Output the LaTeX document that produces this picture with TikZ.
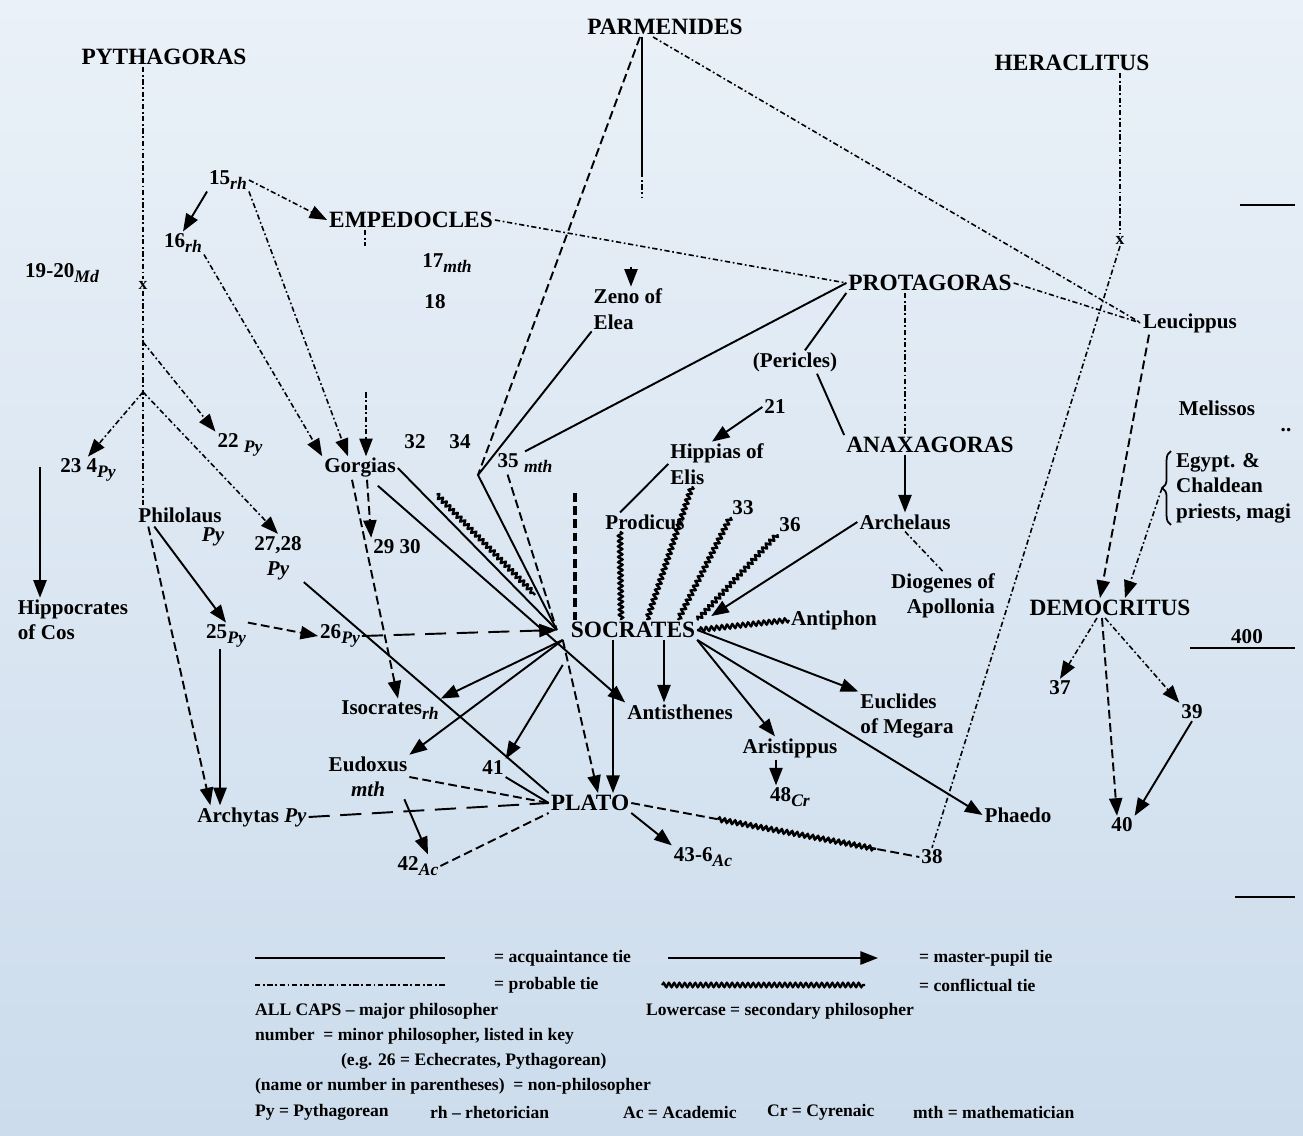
\documentclass[tikz,border=0pt]{standalone}
\usepackage{fontspec}
\setmainfont{Liberation Serif}
\usetikzlibrary{arrows.meta,calc,decorations.pathmorphing,decorations.pathreplacing}
\definecolor{bgtop}{RGB}{234,241,248}
\definecolor{bgbot}{RGB}{204,220,236}
\newcommand{\sbs}[1]{\raisebox{-0.5ex}{\fontsize{10}{10}\selectfont\itshape #1}}
\tikzset{
  lab/.style = {inner sep=1pt, font=\fontsize{12}{14.5}\selectfont\bfseries},
  major/.style = {lab, font=\fontsize{13.3}{15}\selectfont\bfseries},
  key/.style = {inner sep=1pt, anchor=west, font=\fontsize{10}{11}\selectfont\bfseries},
  tie/.style = {line width=1.1pt},
  arr/.style = {-{Triangle[length=10pt,width=7.5pt]}},
  pup/.style = {tie, arr},
  prob/.style = {line width=0.9pt, dash pattern=on 3pt off 1.5pt on 1pt off 1.5pt},
  dsh/.style = {line width=1.1pt, dash pattern=on 5pt off 2.5pt},
  ldsh/.style = {line width=1.1pt, dash pattern=on 12pt off 6pt},
  confl/.style = {line width=1.3pt, decorate,
    decoration={snake, amplitude=1.2pt, segment length=3pt}}
}
\begin{document}
\begin{tikzpicture}[x=0.02cm, y=-0.02cm]
    \shade[top color=bgtop, bottom color=bgbot] (0,0) rectangle (1303,1136);
    \useasboundingbox (0,0) rectangle (1303,1136);

    \node[major] (pyth) at (164,57) {PYTHAGORAS};
    \node[major] (parm) at (665,27) {PARMENIDES};
    \node[major] (hera) at (1072,63) {HERACLITUS};
    \node[lab] (n15) at (228,180) {15\sbs{rh}};
    \node[lab] (n16) at (183,243) {16\sbs{rh}};
    \node[major] (emped) at (411,220) {EMPEDOCLES};
    \node[lab] (n17) at (447,263) {17\sbs{mth}};
    \node[lab] (n18) at (435,302) {18};
    \node[lab] (n1920) at (62,273) {19-20\sbs{Md}};
    \node[lab] (xp) at (143,285) {\fontsize{10}{10}\selectfont x};
    \node[lab] (xh) at (1120,240) {\fontsize{10}{10}\selectfont x};
    \node[lab, align=left] (zeno) at (628,309) {Zeno of\\Elea};
    \node[major] (prot) at (930,283) {PROTAGORAS};
    \node[lab] (leuc) at (1190,323) {Leucippus};
    \node[lab] (peric) at (795,362) {(Pericles)};
    \node[lab] (meliss) at (1217,408) {Melissos};
    \node[lab] (dd) at (1286,430) {..};
    \node[lab] (n21) at (775,407) {21};
    \node[lab, align=left] (hipp) at (717,464) {Hippias of\\Elis};
    \node[major] (anax) at (930,445) {ANAXAGORAS};
    \node[lab, align=left, anchor=west] (egypt) at (1174,488) {Egypt. \&\\Chaldean\\priests, magi};
    \node[lab] (n234) at (88,470) {23 4\sbs{Py}};
    \node[lab] (n22) at (240,445) {22 \sbs{Py}};
    \node[lab] (gorg) at (360,468) {Gorgias};
    \node[lab] (n32) at (415,442) {32};
    \node[lab] (n34) at (460,442) {34};
    \node[lab] (n35) at (525,463) {35 \sbs{mth}};
    \node[lab] (prod) at (645,522) {Prodicus};
    \node[lab] (n33) at (743,508) {33};
    \node[lab] (n36) at (790,525) {36};
    \node[lab] (arch) at (905,522) {Archelaus};
    \node[lab] (phil) at (180,515) {Philolaus};
    \node[lab] (philpy) at (213,537) {\itshape Py};
    \node[lab, align=center] (n2728) at (278,558) {27,28\\\itshape Py};
    \node[lab] (n2930) at (397,547) {29 30};
    \node[lab, align=left] (hippoc) at (73,620) {Hippocrates\\of Cos};
    \node[lab, align=right] (diog) at (943,596) {Diogenes of\\Apollonia};
    \node[major] (socr) at (633,630) {SOCRATES};
    \node[lab] (antiph) at (834,620) {Antiphon};
    \node[major] (demo) at (1110,608) {DEMOCRITUS};
    \node[lab] (n400) at (1247,637) {400};
    \node[lab] (n25) at (226,636) {25\sbs{Py}};
    \node[lab] (n26) at (340,636) {26\sbs{Py}};
    \node[lab] (n37) at (1060,688) {37};
    \node[lab] (n39) at (1192,712) {39};
    \node[lab] (isoc) at (390,710) {Isocrates\sbs{rh}};
    \node[lab] (antis) at (680,712) {Antisthenes};
    \node[lab, align=left] (eucl) at (907,716) {Euclides\\of Megara};
    \node[lab] (arist) at (790,748) {Aristippus};
    \node[lab, align=center] (eudox) at (368,777) {Eudoxus\\\itshape mth};
    \node[lab] (n41) at (493,768) {41};
    \node[lab] (n48) at (790,797) {48\sbs{Cr}};
    \node[lab] (archy) at (252,817) {Archytas \itshape Py};
    \node[major] (plato) at (590,803) {PLATO};
    \node[lab] (phaedo) at (1018,815) {Phaedo};
    \node[lab] (n40) at (1122,825) {40};
    \node[lab] (n42) at (418,866) {42\sbs{Ac}};
    \node[lab] (n436) at (703,857) {43-6\sbs{Ac}};
    \node[lab] (n38) at (932,857) {38};

    \coordinate (br1) at (143,342);
    \coordinate (br2) at (143,392);
    \coordinate (hipstart) at (40,467);
    \coordinate (vx) at (478,475);
    \coordinate (zs) at (575,493);
    \coordinate (sw) at ($(socr.west)+(-12,0)$);
    \coordinate (sws) at ($(socr.south west)+(-6,0)$);
    \coordinate (egtip) at ($(egypt.west)+(-12,0)$);

    \draw[line width=1pt, decorate, decoration={brace, amplitude=5pt}]
      ($(egypt.south west)+(-3,0)$) -- ($(egypt.north west)+(-3,0)$);

    \draw[prob] (pyth.south -| xp) -- (xp.north);
    \draw[prob] (xp.south) -- (xp |- phil.north);
    \draw[prob, arr] (br1) -- (n22.north west);
    \draw[prob, arr] (br2) -- (n234.north);
    \draw[prob, arr] (br2) -- (n2728.north);
    \draw[pup] (hipstart) -- (hippoc.north -| hipstart);
    \draw[pup] ($(phil.south west)+(18,2)$) -- (n25.north);
    \draw[dsh, arr] ($(phil.south west)+(12,2)$) -- ($(archy.north west)+(15,0)$);
    \draw[pup] ($(n25.south)+(-6,0)$) -- ($(n25.south |- archy.north)+(-6,0)$);
    \draw[dsh, arr] (n25.north east) -- (n26.west);
    \draw[ldsh, arr] (n26.east) -- (sw);
    \draw[ldsh] (archy.east) -- (plato.west);
    \draw[tie] (n2728.south east) -- (plato.north west);

    \draw[pup] (n15.south west) -- (n16.north);
    \draw[prob, arr] (n15.east) -- (emped.west);
    \draw[prob, arr] (n15.south east) -- ($(gorg.north)+(-12,0)$);
    \draw[prob, arr] (n16.south east) -- (gorg.north west);
    \draw[prob] ($(emped.south)+(-46,0)$) -- ++(0,16);
    \draw[prob, arr] ($(gorg.north)+(6,-64)$) -- ($(gorg.north)+(6,0)$);
    \draw[dsh, arr] ($(gorg.south)+(7,0)$) -- (n2930.north west);
    \draw[dsh, arr] ($(gorg.south)+(-8,0)$) -- ($(isoc.north)+(8,0)$);
    \draw[tie] (gorg.east) -- (sw);
    \draw[confl] ($(gorg.east)!0.2!(sw)+(7,-6)$) -- ($(gorg.east)!0.82!(sw)+(7,-6)$);
    \draw[pup] ($(gorg.south east)+(-20,6)$) -- (antis.north west);

    \draw[pup] (sws) -- (isoc.north east);
    \draw[pup] (sws) -- (eudox.north east);
    \draw[pup] ($(sws)+(0,25)$) -- (n41.north east);
    \draw[tie] (n41.south east) -- (plato.west);
    \draw[dsh, arr] (sws) -- ($(plato.north)+(8,0)$);
    \draw[pup] ($(socr.south)+(-20,0)$) -- ($(plato.north)+(23,0)$);
    \draw[pup] ($(socr.south)+(31,0)$) -- ($(socr.south |- antis.north)+(31,0)$);
    \draw[pup] (socr.south east) -- ($(arist.north)+(-15,0)$);
    \draw[pup] (socr.east) -- (eucl.north west);
    \draw[pup] (socr.south east) -- (phaedo.west);
    \draw[pup] ($(arist.south)+(-14,0)$) -- ($(arist.south |- n48.north)+(-14,0)$);
    \draw[pup] (plato.south east) -- (n436.north west);
    \draw[dsh] (plato.east) -- (n38.west);
    \draw[confl] ($(plato.east)!0.3!(n38.west)$) -- ($(plato.east)!0.85!(n38.west)$);
    \draw[dsh] (eudox.east) -- (plato.west);
    \draw[pup] ($(eudox.south east)+(-5,0)$) -- ($(n42.north)+(10,0)$);
    \draw[dsh] (n42.east) -- (plato.south west);

    \draw[tie] ($(parm.south)+(-23,0)$) -- ++(0,135) coordinate (pe);
    \draw[prob] (pe) -- ++(0,25);
    \draw[pup] ($(zeno.north)+(3,-20)$) -- ($(zeno.north)+(3,0)$);
    \draw[dsh] ($(parm.south)+(-25,0)$) -- (vx);
    \draw[tie] (zeno.south west) -- (vx) -- (sw);
    \draw[prob] ($(parm.south)+(-12,0)$) -- (leuc.west);
    \draw[prob] (emped.east) -- (prot.west);
    \draw[prob] (prot.east) -- (leuc.west);
    \draw[tie] (prot.west) -- (n35.north);
    \draw[dsh] ($(n35.south west)+(12,0)$) -- (sw);
    \draw[line width=2pt, dash pattern=on 5pt off 2.5pt] (zs) -- (zs |- socr.north);

    \draw[tie] (prot.south west) -- ($(peric.north)+(10,0)$);
    \draw[tie] ($(peric.south)+(22,0)$) -- (anax.north west);
    \draw[prob] ($(prot.south)+(-25,0)$) -- ($(anax.north)+(-25,0)$);
    \draw[pup] ($(anax.south)+(-25,0)$) -- (arch.north);
    \draw[prob] (arch.south) -- (diog.north);
    \draw[pup] (arch.west) -- ($(socr.north east)+(14,-4)$);
    \draw[pup] (n21.west) -- ($(hipp.north)+(-5,0)$);
    \draw[tie] (hipp.west) -- ($(prod.north)+(-25,0)$);
    \draw[confl] ($(hipp.south)+(-25,0)$) -- ($(socr.north)+(14,0)$);
    \draw[confl] ($(prod.south)+(-25,0)$) -- ($(socr.north)+(-12,0)$);
    \draw[confl] (n33.south west) -- ($(socr.north)+(45,0)$);
    \draw[confl] (n36.south west) -- (socr.north east);
    \draw[confl] (antiph.west) -- (socr.east);

    \draw[prob] ($(hera.south)+(48,0)$) -- (xh.north);
    \draw[prob] (xh.south) -- (n38.north);
    \draw[dsh, arr] ($(leuc.south west)+(8,0)$) -- ($(demo.north)+(-10,0)$);
    \draw[prob, arr] (egtip) -- ($(demo.north)+(15,0)$);
    \draw[prob, arr] ($(demo.south)+(-13,0)$) -- (n37.north);
    \draw[dsh, arr] ($(demo.south)+(-8,0)$) -- ($(n40.north)+(-5,0)$);
    \draw[prob, arr] ($(demo.south)+(-5,0)$) -- (n39.north west);
    \draw[pup] (n39.south) -- (n40.north east);

    \draw[tie] (1240,205) -- (1295,205);
    \draw[tie] (1190,648) -- (1295,648);
    \draw[tie] (1235,897) -- (1295,897);

    \draw[tie] (255,958) -- (445,958);
    \node[key] (kacq) at (492,958) {= acquaintance tie};
    \draw[pup] (668,958) -- (878,958);
    \node[key] (kmp) at (917,958) {= master-pupil tie};
    \draw[prob] (255,985) -- (445,985);
    \node[key] (kprob) at (492,985) {= probable tie};
    \draw[confl] (662,985) -- (865,985);
    \node[key] (kconf) at (917,985) {= conflictual tie};
    \node[key] (kcaps) at (253,1011) {ALL CAPS -- major philosopher};
    \node[key] (klow) at (644,1011) {Lowercase = secondary philosopher};
    \node[key] (knum) at (253,1036) {number \ = minor philosopher, listed in key};
    \node[key] (keg) at (339,1061) {(e.g. 26 = Echecrates, Pythagorean)};
    \node[key] (kpar) at (253,1086) {(name or number in parentheses) \ = non-philosopher};
    \node[key] (kpy) at (253,1112) {Py = Pythagorean};
    \node[key] (krh) at (428,1112) {rh -- rhetorician};
    \node[key] (kac) at (621,1112) {Ac = Academic};
    \node[key] (kcr) at (765,1112) {Cr = Cyrenaic};
    \node[key] (kmth) at (911,1112) {mth = mathematician};
\end{tikzpicture}
\end{document}
